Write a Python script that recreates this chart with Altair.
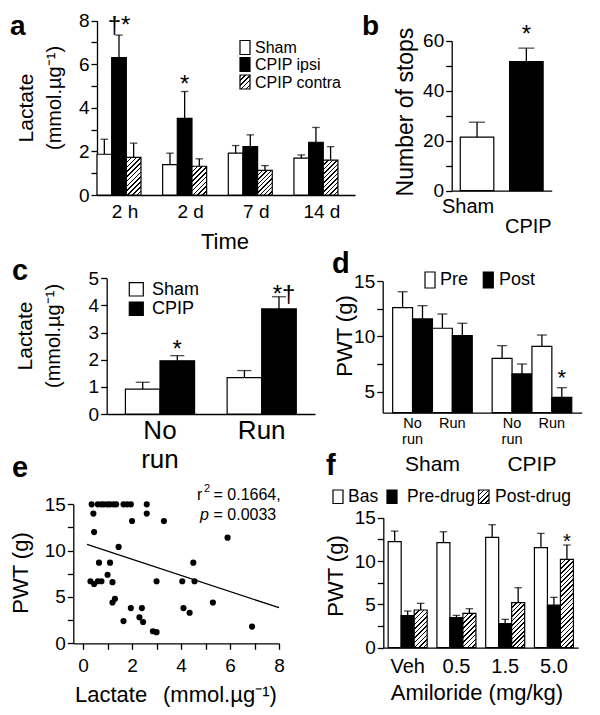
import altair as alt

FONT = "Liberation Sans"
W, H = 584, 699
MARGIN = 8

# ---------------- data ----------------
# a: lactate over time
a_times = ["2 h", "2 d", "7 d", "14 d"]
a_series = ["Sham", "CPIP ipsi", "CPIP contra"]
a_sham = [1.87, 1.39, 1.92, 1.69]
a_sham_sem = [0.69, 0.53, 0.35, 0.15]
a_ipsi = [6.31, 3.52, 2.22, 2.42]
a_ipsi_sem = [1.03, 1.23, 0.54, 0.68]
a_contra = [1.73, 1.32, 1.13, 1.60]
a_contra_sem = [0.65, 0.34, 0.22, 0.62]

# b: number of stops
b_groups = ["Sham", "CPIP"]
b_stops = [21.4, 51.6]
b_stops_sem = [6.0, 5.4]

# c: lactate, no run / run
c_conditions = ["No run", "Run"]
c_series = ["Sham", "CPIP"]
c_sham = [0.92, 1.34]
c_sham_sem = [0.25, 0.26]
c_cpip = [1.96, 3.87]
c_cpip_sem = [0.19, 0.45]

# d: PWT pre/post  (order: Sham-No run, Sham-Run, CPIP-No run, CPIP-Run)
d_groups = ["Sham", "CPIP"]
d_conditions = ["No run", "Run"]
d_times = ["Pre", "Post"]
d_pre = [12.59, 10.73, 8.01, 9.10]
d_pre_sem = [1.44, 1.29, 1.15, 1.02]
d_post = [11.57, 10.06, 6.60, 4.49]
d_post_sem = [1.20, 1.12, 0.90, 0.87]

# e: scatter PWT vs lactate
e_lactate = [0.35, 0.6, 0.75, 0.85, 1.0, 1.1, 1.25, 1.35, 1.65, 1.8, 1.95, 2.6,
             0.42, 2.6, 2.0, 3.3, 0.45, 1.45, 0.65, 1.1, 4.5, 1.0,
             0.3, 0.45, 0.6, 0.75, 1.2, 3.0, 4.05, 4.55, 5.9,
             1.2, 1.3, 1.95, 2.4, 4.1, 4.35, 5.3, 2.3, 1.65, 2.45, 2.85, 3.0, 6.9]
e_pwt = [15, 15, 15, 15, 15, 15, 15, 15, 15, 15, 15, 15,
         14, 14, 13.2, 13.2, 12.0, 10.4, 8.7, 8.7, 8.7, 7.4,
         6.7, 6.4, 6.7, 6.7, 6.6, 6.7, 6.7, 6.7, 11.4,
         4.4, 4.8, 3.8, 3.8, 3.8, 3.3, 4.4, 2.8, 2.4, 2.3, 1.3, 1.2, 1.8]
e_fit_x = [0.16, 8.0]
e_fit_y = [10.68, 3.84]

# f: amiloride
f_doses = ["Veh", "0.5", "1.5", "5.0"]
f_series = ["Bas", "Pre-drug", "Post-drug"]
f_bas = [12.23, 12.12, 12.73, 11.54]
f_bas_sem = [1.23, 1.26, 1.46, 1.65]
f_pre = [3.69, 3.46, 2.77, 4.92]
f_pre_sem = [0.54, 0.27, 0.50, 0.89]
f_post = [4.35, 3.96, 5.19, 10.20]
f_post_sem = [0.77, 0.54, 1.73, 1.65]


# ---------------- helpers ----------------
def P(v):
    return round(v - MARGIN, 2)


def band_width(x0, x1, n, pi, po):
    step = (x1 - x0) / (n - pi + 2 * po)
    return step * (1 - pi)


def hatch(w, h, period=4.6, frac=0.33):
    w = max(w, 1.0)
    h = max(h, 1.0)
    s = (w + h) * w * h / (w * w + h * h)
    n = max(1, int(round((w + h) / period)))
    stops = []
    for k in range(n):
        o0 = round(k / n, 5)
        o1 = round((k + frac) / n, 5)
        o2 = round((k + 1) / n, 5)
        stops += [{"offset": o0, "color": "#000000"}, {"offset": o1, "color": "#000000"},
                  {"offset": o1, "color": "#ffffff"}, {"offset": o2, "color": "#ffffff"}]
    return {"gradient": "linear", "x1": 0, "y1": 0,
            "x2": round(s / h, 5), "y2": round(s / w, 5), "stops": stops}


def x_axis(y_ref, **kw):
    d = dict(orient="bottom", offset=round(P(y_ref) - H, 2), title=None, grid=False,
             labelFlush=False, labelOverlap=False, labelAngle=0)
    d.update(kw)
    return alt.Axis(**d)


def y_axis(x_ref, **kw):
    d = dict(orient="left", offset=round(-P(x_ref), 2), title=None, grid=False,
             labelOverlap=False, labelFlush=False)
    d.update(kw)
    return alt.Axis(**d)


def y_factory(domain, y0, y1, x_ref, values, expr=None):
    scale = alt.Scale(domain=domain, range=[P(y0), P(y1)], nice=False, zero=False)
    kw = dict(values=values)
    if expr:
        kw["labelExpr"] = expr
    axis = y_axis(x_ref, **kw)
    return lambda f: alt.Y(f"{f}:Q", scale=scale, axis=axis, stack=None)


def bar_layers(recs, X, XO, Y, ymin, capw):
    base = alt.Chart(alt.Data(values=recs))
    enc = {"x": X}
    if XO is not None:
        enc["xOffset"] = XO
    bars = base.mark_bar(stroke="black", strokeWidth=1.2).encode(
        y=Y("m"), y2=alt.datum(ymin), fill=alt.Fill("fill:N", scale=None, legend=None), **enc)
    err = base.mark_rule(color="black", strokeWidth=1.3).encode(y=Y("m"), y2=alt.Y2("hi:Q"), **enc)
    cap = base.mark_tick(orient="horizontal", color="black", thickness=1.3, size=capw).encode(
        y=Y("hi"), **enc)
    return [bars, err, cap]


def pick(recs, **kv):
    for r in recs:
        if all(r[k] == v for k, v in kv.items()):
            return r
    raise KeyError(kv)


def star(rec, text, X, XO, Y, size, dx=0, dy=0):
    enc = {"x": X, "y": Y("hi")}
    if XO is not None:
        enc["xOffset"] = XO
    return alt.Chart(alt.Data(values=[rec])).mark_text(
        text=text, fontSize=size, font=FONT, color="black", align="center",
        baseline="alphabetic", dx=dx, dy=dy).encode(**enc)


def text_at(s, x, y, size, align="center", baseline="alphabetic", angle=0,
            weight="normal", style="normal"):
    return alt.Chart(alt.Data(values=[{"k": 0}])).mark_text(
        text=s, fontSize=size, font=FONT, color="black", align=align, baseline=baseline,
        angle=angle, fontWeight=weight, fontStyle=style).encode(
        x=alt.value(P(x)), y=alt.value(P(y)))


def rect_at(x0, x1, y0, y1, fill):
    return alt.Chart(alt.Data(values=[{"k": 0}])).mark_rect(
        fill=fill, stroke="black", strokeWidth=1.2).encode(
        x=alt.value(P(x0)), x2=alt.value(P(x1)), y=alt.value(P(y0)), y2=alt.value(P(y1)))


WHITE, BLACK = "#ffffff", "#000000"

# ---------------- panel a ----------------
A_X0, A_X1, A_Y0, A_Y1 = 97, 355, 195, 20.7
a_pxu = (A_Y0 - A_Y1) / 8
a_barw = band_width(A_X0, A_X1, 4, 0.33, 0.13) / 3
a_recs = []
for i, t in enumerate(a_times):
    for s, m, e in ((a_series[0], a_sham[i], a_sham_sem[i]),
                    (a_series[1], a_ipsi[i], a_ipsi_sem[i]),
                    (a_series[2], a_contra[i], a_contra_sem[i])):
        fill = WHITE if s == "Sham" else BLACK if s == "CPIP ipsi" else hatch(a_barw, m * a_pxu)
        a_recs.append({"t": t, "s": s, "m": m, "hi": round(m + e, 3), "fill": fill})
aX = alt.X("t:N", scale=alt.Scale(domain=a_times, range=[P(A_X0), P(A_X1)], paddingInner=0.33,
                                  paddingOuter=0.13, align=0),
           axis=x_axis(A_Y0, ticks=False, labelPadding=7, labelOffset=6, labelFontSize=19))
aXO = alt.XOffset("s:N", scale=alt.Scale(domain=a_series, paddingInner=0, paddingOuter=0))
aY = y_factory([0, 8], A_Y0, A_Y1, A_X0, list(range(9)), "datum.value % 2 == 0 ? datum.label : ''")
panel_a = alt.layer(
    *bar_layers(a_recs, aX, aXO, aY, 0, 7.5),
    star(pick(a_recs, t="2 h", s="CPIP ipsi"), "†*", aX, aXO, aY, 24, dy=-2),
    star(pick(a_recs, t="2 d", s="CPIP ipsi"), "*", aX, aXO, aY, 24, dy=0),
)

# ---------------- panel b ----------------
B_X0, B_X1, B_Y0, B_Y1 = 451.7, 551.7, 190.7, 40.7
b_recs = [{"g": g, "m": m, "hi": round(m + e, 3), "fill": WHITE if g == "Sham" else BLACK}
          for g, m, e in zip(b_groups, b_stops, b_stops_sem)]
bX = alt.X("g:N", scale=alt.Scale(domain=b_groups, range=[P(B_X0), P(B_X1)], paddingInner=0.32,
                                  paddingOuter=0.174),
           axis=x_axis(B_Y0, ticks=False, labels=False))
bY = y_factory([0, 60], B_Y0, B_Y1, B_X0, list(range(0, 61, 10)),
               "datum.value % 20 == 0 ? datum.label : ''")
b_lab_sham = alt.Chart(alt.Data(values=[b_recs[0]])).mark_text(
    text="Sham", fontSize=20, font=FONT, color="black", baseline="alphabetic", dx=-9).encode(
    x=bX, y=alt.value(P(213)))
b_lab_cpip = alt.Chart(alt.Data(values=[b_recs[1]])).mark_text(
    text="CPIP", fontSize=20, font=FONT, color="black", baseline="alphabetic", dx=2).encode(
    x=bX, y=alt.value(P(233)))
panel_b = alt.layer(
    *bar_layers(b_recs, bX, None, bY, 0, 16),
    star(b_recs[1], "*", bX, None, bY, 24, dy=-6),
    b_lab_sham, b_lab_cpip,
)

# ---------------- panel c ----------------
C_X0, C_X1, C_Y0, C_Y1 = 106.7, 315, 414, 278.3
c_recs = []
for i, c in enumerate(c_conditions):
    for s, m, e in ((c_series[0], c_sham[i], c_sham_sem[i]), (c_series[1], c_cpip[i], c_cpip_sem[i])):
        c_recs.append({"c": c, "s": s, "m": m, "hi": round(m + e, 3),
                       "fill": WHITE if s == "Sham" else BLACK})
cX = alt.X("c:N", scale=alt.Scale(domain=c_conditions, range=[P(C_X0), P(C_X1)], paddingInner=0.32,
                                  paddingOuter=0.184),
           axis=x_axis(C_Y0, ticks=False, labels=False))
cXO = alt.XOffset("s:N", scale=alt.Scale(domain=c_series, paddingInner=0, paddingOuter=0))
cY = y_factory([0, 5], C_Y0, C_Y1, C_X0, list(range(6)))
c_lab = alt.Chart(alt.Data(values=[{"c": c, "lab": c.replace(" ", "\n")} for c in c_conditions])).mark_text(
    fontSize=26, font=FONT, color="black", baseline="alphabetic", lineBreak="\n", lineHeight=29).encode(
    x=cX, y=alt.value(P(439.3)), text="lab:N")
panel_c = alt.layer(
    *bar_layers(c_recs, cX, cXO, cY, 0, 14),
    star(pick(c_recs, c="No run", s="CPIP"), "*", cX, cXO, cY, 24, dy=1),
    star(pick(c_recs, c="Run", s="CPIP"), "*†", cX, cXO, cY, 24, dx=5, dy=5),
    c_lab,
)

# ---------------- panel d ----------------
D_X0, D_X1, D_Y0, D_Y1 = 382.7, 581.7, 412.7, 281
d_recs = []
d_domain = []
idx = 0
for g in d_groups:
    for c in d_conditions:
        for t, vals, sems in (("Pre", d_pre, d_pre_sem), ("Post", d_post, d_post_sem)):
            k = f"{g} {c} {t}"
            d_domain.append(k)
            d_recs.append({"k": k, "g": g, "c": c, "t": t, "m": vals[idx],
                           "hi": round(vals[idx] + sems[idx], 3),
                           "fill": WHITE if t == "Pre" else BLACK})
        idx += 1
    if g == d_groups[0]:
        d_domain.append("gap")
dX_scale = alt.Scale(domain=d_domain, range=[P(D_X0), P(D_X1)], paddingInner=0, paddingOuter=0.5)
dX_axis = x_axis(D_Y0, ticks=False, labels=False)
dX = alt.X("k:N", scale=dX_scale, axis=dX_axis)
dX_edge = alt.X("k:N", scale=dX_scale, axis=dX_axis, bandPosition=1)
dY = y_factory([3.1, 15], D_Y0, D_Y1, D_X0, [5, 7.5, 10, 12.5, 15],
               "datum.value % 5 == 0 ? datum.label : ''")
d_cond_lab = alt.Chart(alt.Data(values=[
    {"k": f"{g} {c} Pre", "lab": c.replace(" ", "\n")} for g in d_groups for c in d_conditions
])).mark_text(fontSize=14.5, font=FONT, color="black", baseline="alphabetic", lineBreak="\n",
              lineHeight=16).encode(x=dX_edge, y=alt.value(P(428)), text="lab:N")
d_group_lab = alt.Chart(alt.Data(values=[
    {"k": f"{g} No run Post", "lab": g} for g in d_groups
])).mark_text(fontSize=21, font=FONT, color="black", baseline="alphabetic").encode(
    x=dX_edge, y=alt.value(P(470.5)), text="lab:N")
panel_d = alt.layer(
    *bar_layers(d_recs, dX, None, dY, 3.1, 10),
    star(pick(d_recs, k="CPIP Run Post"), "*", dX, None, dY, 22, dy=-3),
    d_cond_lab, d_group_lab,
)

# ---------------- panel e ----------------
E_X0, E_X1, E_Y0, E_Y1 = 73.3, 279, 643.3, 504.3
eX = alt.X("lac:Q", scale=alt.Scale(domain=[-0.4, 8], range=[P(E_X0), P(E_X1)], nice=False, zero=False),
           axis=x_axis(E_Y0, values=list(range(9)), labelPadding=7,
                       labelExpr="datum.value % 2 == 0 ? datum.label : ''"))
eY = alt.Y("pwt:Q", scale=alt.Scale(domain=[0, 15], range=[P(E_Y0), P(E_Y1)], nice=False, zero=False),
           axis=y_axis(E_X0, values=[0, 2.5, 5, 7.5, 10, 12.5, 15],
                       labelExpr="datum.value % 5 == 0 ? datum.label : ''"))
e_pts = alt.Chart(alt.Data(values=[{"lac": x, "pwt": y} for x, y in zip(e_lactate, e_pwt)])).mark_circle(
    size=38, color="black", opacity=1).encode(x=eX, y=eY)
e_fit = alt.Chart(alt.Data(values=[{"lac": x, "pwt": y} for x, y in zip(e_fit_x, e_fit_y)])).mark_line(
    color="black", strokeWidth=1.3).encode(x=eX, y=eY)
panel_e = alt.layer(e_fit, e_pts)

# ---------------- panel f ----------------
F_X0, F_X1, F_Y0, F_Y1 = 383.3, 578.3, 647.7, 517.7
f_pxu = (F_Y0 - F_Y1) / 15
f_barw = band_width(F_X0, F_X1, 4, 0.2, 0.1) / 3
f_recs = []
for i, dose in enumerate(f_doses):
    for s, m, e in ((f_series[0], f_bas[i], f_bas_sem[i]), (f_series[1], f_pre[i], f_pre_sem[i]),
                    (f_series[2], f_post[i], f_post_sem[i])):
        fill = WHITE if s == "Bas" else BLACK if s == "Pre-drug" else hatch(f_barw, m * f_pxu)
        f_recs.append({"d": dose, "s": s, "m": m, "hi": round(m + e, 3), "fill": fill})
fX = alt.X("d:N", scale=alt.Scale(domain=f_doses, range=[P(F_X0), P(F_X1)], paddingInner=0.2,
                                  paddingOuter=0.1),
           axis=x_axis(F_Y0, ticks=False, labelPadding=9, labelFontSize=20))
fXO = alt.XOffset("s:N", scale=alt.Scale(domain=f_series, paddingInner=0, paddingOuter=0))
fY = y_factory([0, 15], F_Y0, F_Y1, F_X0, [0, 2.5, 5, 7.5, 10, 12.5, 15],
               "datum.value % 5 == 0 ? datum.label : ''")
panel_f = alt.layer(
    *bar_layers(f_recs, fX, fXO, fY, 0, 7.5),
    star(pick(f_recs, d="5.0", s="Post-drug"), "*", fX, fXO, fY, 20, dy=3),
)

# ---------------- free text, legends ----------------
deco = [
    # panel letters
    text_at("a", 10, 35, 28, align="left", weight="bold"),
    text_at("b", 362, 35, 28, align="left", weight="bold"),
    text_at("c", 12, 280, 29, align="left", weight="bold"),
    text_at("d", 332, 273, 29, align="left", weight="bold"),
    text_at("e", 12, 477, 29, align="left", weight="bold"),
    text_at("f", 326, 475, 29, align="left", weight="bold"),
    # axis titles
    text_at("Lactate", 27, 108, 21, baseline="middle", angle=270),
    text_at("(mmol.µg⁻¹)", 55, 98, 20, baseline="middle", angle=270),
    text_at("Time", 225, 249, 22),
    text_at("Number of stops", 406, 112, 23, baseline="middle", angle=270),
    text_at("Lactate", 26, 336, 21, baseline="middle", angle=270),
    text_at("(mmol.µg⁻¹)", 54, 336, 20, baseline="middle", angle=270),
    text_at("PWT (g)", 345, 336, 22, baseline="middle", angle=270),
    text_at("PWT (g)", 21, 573, 22, baseline="middle", angle=270),
    text_at("Lactate", 75, 702, 22, align="left"),
    text_at("(mmol.µg⁻¹)", 163, 702, 22, align="left"),
    text_at("PWT (g)", 336, 576, 22, baseline="middle", angle=270),
    text_at("Amiloride (mg/kg)", 477, 700, 22),
    # panel a legend
    rect_at(240, 250, 40.5, 54.5, WHITE),
    rect_at(240, 250, 57.5, 71.5, BLACK),
    rect_at(240, 250, 75, 89, hatch(10, 14)),
    text_at("Sham", 255, 48, 16, align="left", baseline="middle"),
    text_at("CPIP ipsi", 255, 65, 16, align="left", baseline="middle"),
    text_at("CPIP contra", 255, 82.5, 16, align="left", baseline="middle"),
    # panel c legend
    rect_at(129.3, 143.3, 282.7, 296, WHITE),
    rect_at(129.3, 143.3, 302, 315.5, BLACK),
    text_at("Sham", 152, 289.5, 18, align="left", baseline="middle"),
    text_at("CPIP", 152, 309, 18, align="left", baseline="middle"),
    # panel d legend
    rect_at(425, 435, 272, 288, WHITE),
    rect_at(483.3, 493.3, 272, 288, BLACK),
    text_at("Pre", 440, 280, 18, align="left", baseline="middle"),
    text_at("Post", 499, 280, 18, align="left", baseline="middle"),
    # panel f legend
    rect_at(333, 343, 490, 503.5, WHITE),
    rect_at(387, 397, 490, 503.5, BLACK),
    rect_at(478.5, 489, 490, 503.5, hatch(10.5, 13.5)),
    text_at("Bas", 348, 497, 17.5, align="left", baseline="middle"),
    text_at("Pre-drug", 407, 497, 17.5, align="left", baseline="middle"),
    text_at("Post-drug", 495, 497, 17.5, align="left", baseline="middle"),
    # panel e statistics
    text_at("r", 197, 500, 16, align="left"),
    text_at("2", 204, 492, 11, align="left"),
    text_at("= 0.1664,", 213.5, 500, 16, align="left"),
    text_at("p", 200, 520, 16, align="left", style="italic"),
    text_at("= 0.0033", 213.5, 520, 16, align="left"),
]

chart = alt.layer(panel_a, panel_b, panel_c, panel_d, panel_e, panel_f, *deco).resolve_scale(
    x="independent", y="independent", xOffset="independent"
).properties(
    width=W, height=H, autosize=alt.AutoSizeParams(type="none"), padding=0
).configure_view(stroke=None).configure_axis(
    domainColor="black", domainWidth=1.3, tickColor="black", tickWidth=1.3, tickSize=6,
    labelColor="black", labelFont=FONT, labelFontSize=19, labelPadding=2, grid=False
)

chart.save("out.html", embed_options={"renderer": "svg", "actions": False})
